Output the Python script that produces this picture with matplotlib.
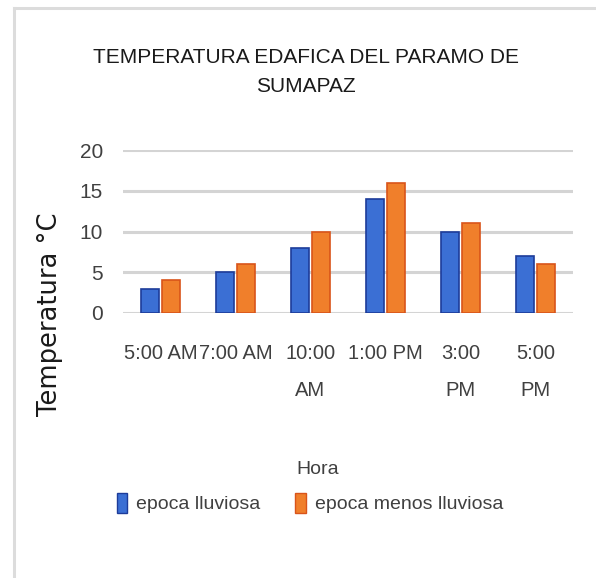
import matplotlib
matplotlib.use("Agg")
import matplotlib.pyplot as plt
from matplotlib.lines import Line2D
from matplotlib.patches import Patch
import numpy as np

# Soil temperature at the Sumapaz paramo, by hour of day
horas = ["5:00 AM", "7:00 AM", "10:00\nAM", "1:00 PM", "3:00\nPM", "5:00\nPM"]
epoca_lluviosa = [3, 5, 8, 14, 10, 7]
epoca_menos_lluviosa = [4, 6, 10, 16, 11, 6]
y_ticks = [0, 5, 10, 15, 20]

FONT = "Liberation Sans"
BLUE, BLUE_EDGE = "#3b6fd4", "#1d3c9a"
ORANGE, ORANGE_EDGE = "#f07f2b", "#d9541a"
GRID = "#d4d4d4"

fig = plt.figure(figsize=(5.96, 5.78), dpi=100)
W, H = 596, 578

# light frame along the left and top edges
fig.add_artist(Line2D([14 / W, 14 / W], [0, 1 - 8 / H], color="#dcdcdc", lw=2.2))
fig.add_artist(Line2D([14 / W, 1], [1 - 8 / H, 1 - 8 / H], color="#dcdcdc", lw=2.2))

ax = fig.add_axes([123 / W, 1 - 313 / H, 450 / W, 163 / H])

x = np.arange(len(horas))
bw = 0.23
ax.bar(x - bw / 2 - 0.025, epoca_lluviosa, bw, color=BLUE, edgecolor=BLUE_EDGE,
       linewidth=1.2, zorder=3)
ax.bar(x + bw / 2 + 0.025, epoca_menos_lluviosa, bw, color=ORANGE,
       edgecolor=ORANGE_EDGE, linewidth=1.2, zorder=3)

ax.set_xlim(-0.5, len(horas) - 0.5)
ax.set_ylim(0, 20)
ax.set_yticks(y_ticks)
ax.yaxis.grid(True, color=GRID, lw=2.2, zorder=0)
for s in ax.spines.values():
    s.set_visible(False)
ax.tick_params(axis="both", length=0, labelcolor="#404040")
ax.tick_params(axis="y", pad=14.5, labelsize=15)
ax.tick_params(axis="x", pad=22, labelsize=14.5)
ax.set_xticks(x)
ax.set_xticklabels(horas, fontfamily=FONT, linespacing=2.25)
for lbl in ax.get_yticklabels():
    lbl.set_fontfamily(FONT)

fig.text(306 / W, 1 - 72 / H, "TEMPERATURA EDAFICA DEL PARAMO DE\nSUMAPAZ",
         ha="center", va="center", fontsize=15, fontfamily=FONT,
         color="#1a1a1a", linespacing=1.65)

fig.text(50 / W, 1 - 314 / H, "Temperatura °C", rotation=90, ha="center",
         va="center", fontsize=18.5, fontfamily="DejaVu Sans", color="#1a1a1a")

fig.text(318 / W, 1 - 470 / H, "Hora", ha="center", va="center", fontsize=14,
         fontfamily=FONT, color="#404040")

handles = [Patch(facecolor=BLUE, edgecolor=BLUE_EDGE, label="epoca lluviosa"),
           Patch(facecolor=ORANGE, edgecolor=ORANGE_EDGE, label="epoca menos lluviosa")]
fig.legend(handles=handles, loc="center", bbox_to_anchor=(310 / W, 1 - 503 / H),
           ncol=2, frameon=False, handlelength=0.55, handleheight=1.2,
           handletextpad=0.45, columnspacing=1.8,
           prop={"family": FONT, "size": 14}, labelcolor="#404040")

fig.savefig("out.png", dpi=100, facecolor="white")
